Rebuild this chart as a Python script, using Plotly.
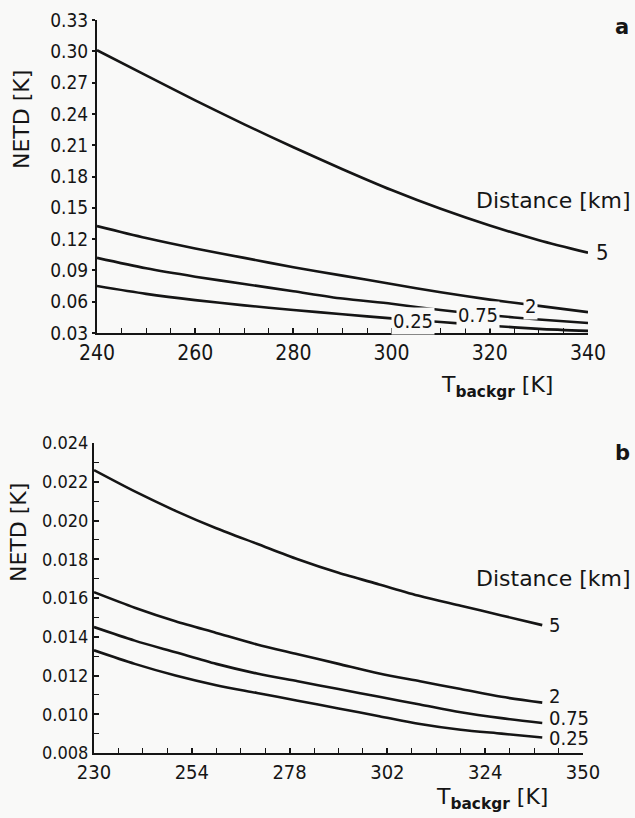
import numpy as np
import plotly.graph_objects as go

# ---------------- data ----------------
distances = ["5", "2", "0.75", "0.25"]

# panel a
t_a = [240, 250, 260, 270, 280, 290, 300, 310, 320, 330, 340]
netd_a_5 = [0.301, 0.277, 0.253, 0.230, 0.208, 0.187, 0.167, 0.149, 0.133, 0.119, 0.107]
netd_a_2 = [0.1325, 0.121, 0.111, 0.102, 0.093, 0.085, 0.077, 0.069, 0.062, 0.056, 0.050]
netd_a_075 = [0.102, 0.092, 0.084, 0.077, 0.070, 0.063, 0.058, 0.052, 0.047, 0.043, 0.0396]
netd_a_025 = [0.075, 0.0675, 0.0615, 0.0565, 0.052, 0.048, 0.044, 0.0405, 0.037, 0.034, 0.032]

# panel b
t_b = [230, 240, 250, 260, 270, 280, 290, 300, 310, 320, 330, 340]
netd_b_5 = [0.0226, 0.0215, 0.0205, 0.0196, 0.0188, 0.0180, 0.0173, 0.0167, 0.0161, 0.0156, 0.0151, 0.0146]
netd_b_2 = [0.0163, 0.0155, 0.0148, 0.0142, 0.0136, 0.0131, 0.0126, 0.0121, 0.0117, 0.0113, 0.0109, 0.0106]
netd_b_075 = [0.0145, 0.0138, 0.0132, 0.0126, 0.0121, 0.0117, 0.0113, 0.0109, 0.0105, 0.0101, 0.0098, 0.00955]
netd_b_025 = [0.0133, 0.0126, 0.0120, 0.0115, 0.0111, 0.0107, 0.0103, 0.0099, 0.0095, 0.0092, 0.0090, 0.0088]

# tick labels
yticks_a = [0.03, 0.06, 0.09, 0.12, 0.15, 0.18, 0.21, 0.24, 0.27, 0.30, 0.33]
ytext_a = ["0.03", "0.06", "0.09", "0.12", "0.15", "0.18", "0.21", "0.24", "0.27", "0.30", "0.33"]
xticks_a = [240, 260, 280, 300, 320, 340]
yticks_b = [0.008, 0.010, 0.012, 0.014, 0.016, 0.018, 0.020, 0.022, 0.024]
ytext_b = ["0.008", "0.010", "0.012", "0.014", "0.016", "0.018", "0.020", "0.022", "0.024"]
xticks_b = [230, 254, 278, 302, 326, 350]
xtext_b = ["230", "254", "278", "302", "324", "350"]

# ---------------- figure ----------------
BG = "#f9f9f8"
INK = "#151515"
CFONT = "DejaVu Sans Condensed, Liberation Sans Narrow, DejaVu Sans, sans-serif"
RFONT = "DejaVu Sans, Verdana, sans-serif"

fig = go.Figure()
series_a = [netd_a_5, netd_a_2, netd_a_075, netd_a_025]
series_b = [netd_b_5, netd_b_2, netd_b_075, netd_b_025]
for name, ys in zip(distances, series_a):
    fig.add_trace(go.Scatter(x=t_a, y=ys, mode="lines", name=name,
                             line=dict(color=INK, width=2.6, shape="spline", smoothing=0.8),
                             xaxis="x", yaxis="y", showlegend=False, hoverinfo="skip"))
for name, ys in zip(distances, series_b):
    fig.add_trace(go.Scatter(x=t_b, y=ys, mode="lines", name=name,
                             line=dict(color=INK, width=2.6, shape="spline", smoothing=0.8),
                             xaxis="x2", yaxis="y2", showlegend=False, hoverinfo="skip"))

axis_common = dict(showgrid=False, zeroline=False, showline=True, linecolor=INK, linewidth=2,
                   automargin=False, tickcolor=INK, tickwidth=1.5)

fig.update_layout(
    width=635, height=818, autosize=False,
    margin=dict(l=0, r=0, t=0, b=0, pad=0),
    paper_bgcolor=BG, plot_bgcolor=BG,
    xaxis=dict(axis_common, domain=[97 / 635, 588 / 635], range=[240, 340], anchor="y",
               tickmode="array", tickvals=xticks_a, ticks="inside", ticklen=5,
               tickfont=dict(family=CFONT, size=21, color=INK),
               minor=dict(ticks="inside", ticklen=5, dtick=5, tick0=240, tickcolor=INK, tickwidth=1.3)),
    yaxis=dict(axis_common, domain=[1 - 333 / 818, 1 - 20 / 818], range=[0.03, 0.33], anchor="x",
               tickmode="array", tickvals=yticks_a, ticktext=ytext_a, ticks="outside", ticklen=3,
               tickfont=dict(family=CFONT, size=19, color=INK)),
    xaxis2=dict(axis_common, domain=[94 / 635, 583 / 635], range=[230, 350], anchor="y2",
                tickmode="array", tickvals=xticks_b, ticktext=xtext_b, ticks="inside", ticklen=5,
                tickfont=dict(family=CFONT, size=20, color=INK),
                minor=dict(ticks="inside", ticklen=5, dtick=6, tick0=230, tickcolor=INK, tickwidth=1.3)),
    yaxis2=dict(axis_common, domain=[1 - 753 / 818, 1 - 443 / 818], range=[0.008, 0.024], anchor="x2",
                tickmode="array", tickvals=yticks_b, ticktext=ytext_b, ticks="inside", ticklen=5,
                tickfont=dict(family=CFONT, size=18, color=INK),
                minor=dict(ticks="inside", ticklen=5, dtick=0.001, tick0=0.008, tickcolor=INK, tickwidth=1.3)),
)

ann = []
lbl_font = dict(family=CFONT, size=20, color=INK)

# panel a curve labels
ann.append(dict(x=t_a[-1], y=netd_a_5[-1], xref="x", yref="y", text="5", showarrow=False,
                xanchor="left", yanchor="middle", xshift=6, font=dict(family=CFONT, size=22, color=INK)))
for txt, ys, xpos in [("2", netd_a_2, 328.2), ("0.75", netd_a_075, 317.6), ("0.25", netd_a_025, 304.4)]:
    ann.append(dict(x=xpos, y=float(np.interp(xpos, t_a, ys)), xref="x", yref="y", text=txt,
                    showarrow=False, xanchor="center", yanchor="middle",
                    bgcolor=BG, borderpad=1, font=lbl_font, yshift=-1))

# panel b curve labels
for txt, ys, ysh in [("5", netd_b_5, 0), ("2", netd_b_2, 7), ("0.75", netd_b_075, 5), ("0.25", netd_b_025, 0)]:
    ann.append(dict(x=t_b[-1], y=ys[-1], xref="x2", yref="y2", text=txt, showarrow=False,
                    xanchor="left", yanchor="middle", xshift=5, yshift=ysh, font=lbl_font))


def paper_text(px, py, text, size, angle=0, xanchor="center", yanchor="middle", family=RFONT):
    return dict(x=px / 635, y=1 - py / 818, xref="paper", yref="paper", text=text, showarrow=False,
                xanchor=xanchor, yanchor=yanchor, textangle=angle,
                font=dict(family=family, size=size, color=INK))


ann += [
    paper_text(633, 200, "Distance [km]", 22, xanchor="right"),
    paper_text(633, 578, "Distance [km]", 22, xanchor="right"),
    paper_text(622, 27, "<b>a</b>", 21),
    paper_text(622, 453, "<b>b</b>", 21),
    paper_text(21, 120, "NETD [K]", 22, angle=-90),
    paper_text(18, 533, "NETD [K]", 22, angle=-90),
    paper_text(497, 403, "T<sub><b>backgr</b></sub> [K]", 22, yanchor="bottom"),
    paper_text(492, 815, "T<sub><b>backgr</b></sub> [K]", 22, yanchor="bottom"),
]
fig.update_layout(annotations=ann)

fig.write_html("out.html", config={"displayModeBar": False},
               post_script="document.body.style.margin='0px';document.body.style.overflow='hidden';")
